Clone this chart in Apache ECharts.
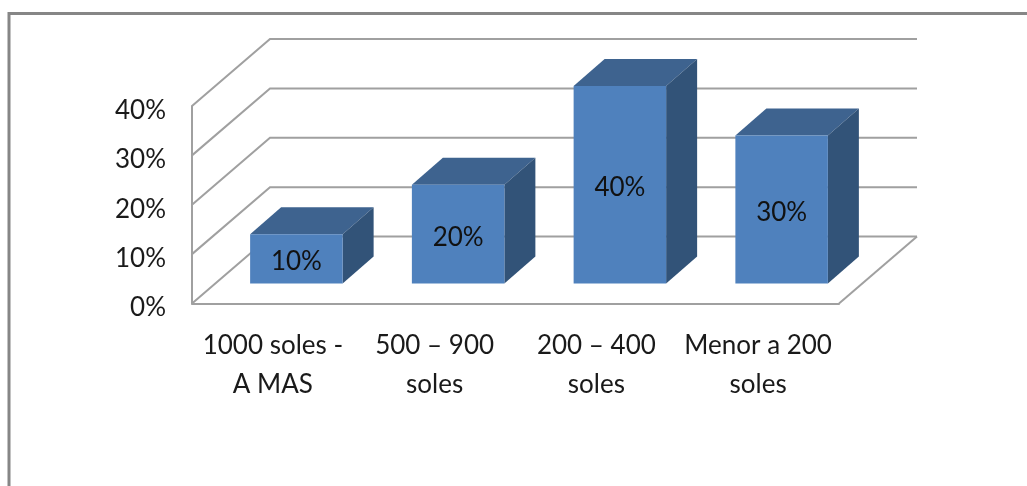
<!DOCTYPE html>
<html><head><meta charset="utf-8">
<style>html,body{margin:0;padding:0;background:#fff;overflow:hidden}#c{width:1027px;height:486px;filter:blur(0.45px)}</style>
<script src="https://cdn.jsdelivr.net/npm/echarts@6/dist/echarts.min.js"></script>
</head><body><div id="c"></div>
<script>
const categories = ['1000 soles -\nA MAS', '500 – 900\nsoles', '200 – 400\nsoles', 'Menor a 200\nsoles'];
const values = [10, 20, 40, 30];
const ticks = [0, 10, 20, 30, 40];

const FONT = '26px Lato, Carlito, sans-serif';
const WALL = '#a0a0a0', TXT = '#1a1a1a';
const DX = 78, DY = -67;           // floor depth
const BOX = 23.5, BOY = -20;       // bar offset from the front edge
const BDX = 31, BDY = -27;         // bar depth
const BW = 92.5;

const chart = echarts.init(document.getElementById('c'), null, {renderer: 'canvas'});
const lineStyle = {stroke: WALL, lineWidth: 2, fill: null};

chart.setOption({
  animation: false,
  backgroundColor: '#fff',
  graphic: [
    {type: 'polyline', z: 0, silent: true,
     shape: {points: [[9, 486], [9, 13.5], [1027, 13.5]]},
     style: {stroke: '#868686', lineWidth: 3, fill: null}}
  ],
  grid: {left: 192, right: 188, top: 106, bottom: 182.5},
  xAxis: {
    type: 'category', data: categories,
    axisLine: {show: true, lineStyle: {color: WALL, width: 2}},
    axisTick: {show: false},
    axisLabel: {interval: 0, margin: 23, fontFamily: 'Lato', fontSize: 26, lineHeight: 39, color: TXT}
  },
  yAxis: {
    type: 'value', min: 0, max: 40, interval: 10,
    axisLine: {show: true, lineStyle: {color: WALL, width: 2}},
    axisTick: {show: false},
    splitLine: {show: false},
    axisLabel: {formatter: '{value}%', margin: 26, verticalAlign: 'top', lineHeight: 9, fontFamily: 'Lato', fontSize: 26, color: TXT}
  },
  series: [
    {
      type: 'custom', name: 'walls', z: 1, silent: true,
      data: ticks.map(t => [0, t]),
      encode: {x: 0, y: 1},
      renderItem(params, api) {
        const cs = params.coordSys;
        const y = api.coord([0, api.value(1)])[1];
        const x0 = cs.x, x1 = cs.x + cs.width;
        const children = [
          {type: 'polyline', shape: {points: [[x0, y], [x0 + DX, y + DY], [x1 + DX, y + DY]]}, style: lineStyle}
        ];
        if (api.value(1) === 0) {
          children.push({type: 'line', shape: {x1: x1, y1: y, x2: x1 + DX, y2: y + DY}, style: lineStyle});
        }
        return {type: 'group', children};
      }
    },
    {
      type: 'custom', name: 'bars', z: 2, silent: true,
      data: values.map((v, i) => [i, v]),
      encode: {x: 0, y: 1},
      renderItem(params, api) {
        const p = api.coord([api.value(0), api.value(1)]);
        const b = api.coord([api.value(0), 0]);
        const l = p[0] - BW / 2 + BOX, r = l + BW;
        const t = p[1] + BOY, bo = b[1] + BOY;
        return {type: 'group', children: [
          {type: 'polygon', shape: {points: [[l, t], [r, t], [r + BDX, t + BDY], [l + BDX, t + BDY]]}, style: {fill: '#3e638f'}},
          {type: 'polygon', shape: {points: [[r, t], [r + BDX, t + BDY], [r + BDX, bo + BDY], [r, bo]]}, style: {fill: '#325378'}},
          {type: 'rect', shape: {x: l, y: t, width: BW, height: bo - t}, style: {fill: '#4f81bd'}},
          {type: 'text', style: {text: api.value(1) + '%', x: (l + r) / 2, y: (t + bo) / 2 + 3, align: 'center', verticalAlign: 'middle', font: FONT, fill: '#111'}}
        ]};
      }
    }
  ]
});
</script></body></html>
